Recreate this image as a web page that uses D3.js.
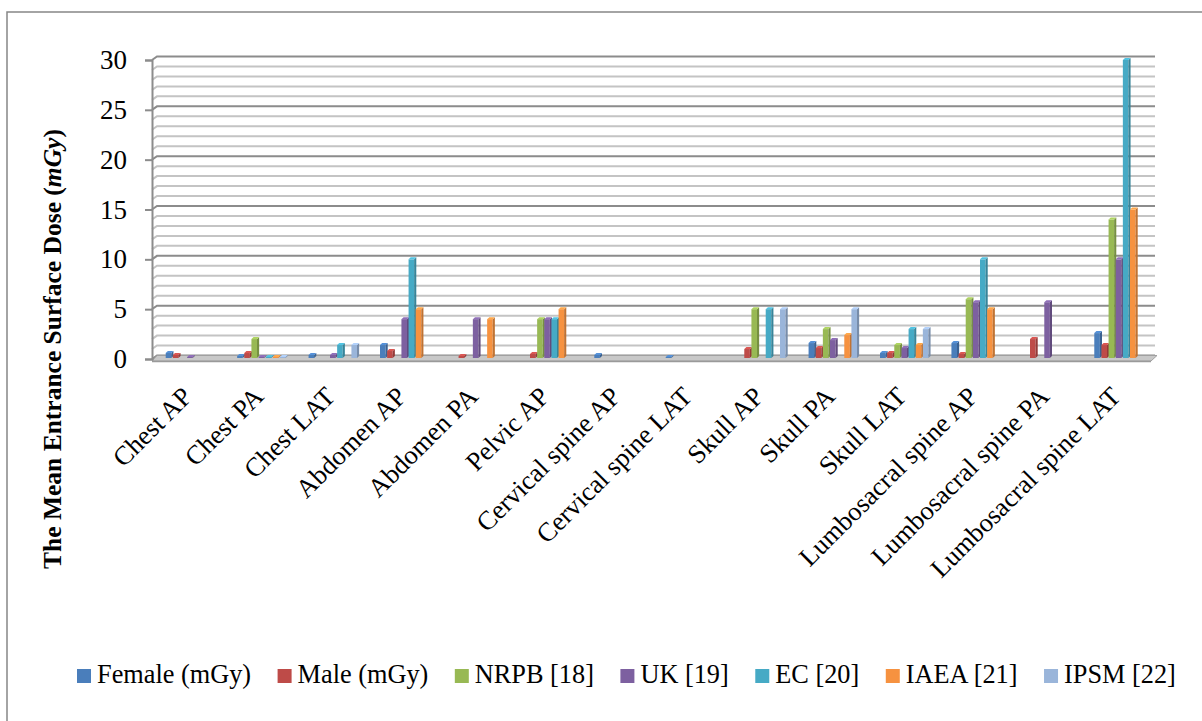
<!DOCTYPE html>
<html><head><meta charset="utf-8">
<script src="https://cdn.jsdelivr.net/npm/d3@7"></script>
<style>body{margin:0;background:#fff}svg{display:block}text{font-family:"Liberation Serif","Times New Roman",serif;fill:#000}</style>
</head><body><svg id="c" width="1202" height="721"></svg>
<script>
const categories = ["Chest AP","Chest PA","Chest LAT","Abdomen AP","Abdomen PA","Pelvic AP","Cervical spine AP","Cervical spine LAT","Skull AP","Skull PA","Skull LAT","Lumbosacral spine AP","Lumbosacral spine PA","Lumbosacral spine LAT"];
const seriesNames = ["Female (mGy)","Male (mGy)","NRPB [18]","UK [19]","EC [20]","IAEA [21]","IPSM [22]"];
const female = [0.6,0.3,0.4,1.4,null,null,0.4,0.2,null,1.6,0.6,1.6,null,2.6];
const male   = [0.4,0.6,null,0.8,0.3,0.5,null,null,1.0,1.1,0.6,0.5,2.0,1.4];
const nrpb   = [null,2.0,null,null,null,4.0,null,null,5.0,3.0,1.4,6.0,null,14];
const uk     = [0.2,0.2,0.4,4.0,4.0,4.0,null,null,null,1.9,1.1,5.7,5.7,10];
const ec     = [null,0.2,1.4,10,null,4.0,null,null,5.0,null,3.0,10,null,30];
const iaea   = [null,0.2,null,5.0,4.0,5.0,null,null,null,2.4,1.4,5.0,null,15];
const ipsm   = [null,0.2,1.4,null,null,null,null,null,5.0,5.0,3.0,null,null,null];
const yTicks = [0,5,10,15,20,25,30];
const seriesValues = [female,male,nrpb,uk,ec,iaea,ipsm];
const colors = ["#4a7ebb","#be4b48","#98b954","#7d60a0","#46aac5","#f69240","#9ab5da"];
const SERIF = "'Liberation Serif','Times New Roman',serif";

const svg = d3.select("#c");
svg.append("rect").attr("x",7).attr("y",12).attr("width",1205).attr("height",725)
  .attr("fill","none").attr("stroke","#868686").attr("stroke-width",1.5);

const y = d3.scaleLinear().domain([0,30]).range([359,60]);
const x = d3.scaleBand().domain(categories).range([155,1155]).paddingInner(0.3).paddingOuter(0.15);
const xs = d3.scaleBand().domain(seriesNames).range([0,x.bandwidth()]);
const dx = 5, dy = 3.5;

// gridlines (back wall)
const grid = svg.append("g");
d3.range(0,31).forEach(v=>{
  const major = v%5===0;
  const c = major ? "#8c8c8c" : "#c4c4c4";
  grid.append("path")
    .attr("d",`M152,${y(v)}L${152+dx},${y(v)-dy}L1155,${y(v)-dy}`)
    .attr("fill","none").attr("stroke",c).attr("stroke-width",2);
});
// floor
svg.append("path").attr("d",`M152,${y(0)+2}L${152+dx},${y(0)-dy}L1157,${y(0)-dy}L1151,${y(0)+2}Z`)
  .attr("fill","#c8c8c8").attr("stroke","#a0a0a0").attr("stroke-width",1);
svg.append("line").attr("x1",152).attr("x2",1151).attr("y1",y(0)+2.5).attr("y2",y(0)+2.5).attr("stroke","#9a9a9a").attr("stroke-width",1.5);

// axis
const ax = svg.append("g").attr("transform","translate(152,0)")
  .call(d3.axisLeft(y).tickValues(yTicks).tickSize(7).tickPadding(18));
ax.attr("font-family",null);
ax.select(".domain").attr("stroke","#8c8c8c").attr("stroke-width",2);
ax.selectAll(".tick line").attr("stroke","#8c8c8c").attr("stroke-width",2);
ax.selectAll(".tick text").attr("font-size",27).style("font-family",SERIF).attr("fill","#000");

// bars
const bars = svg.append("g");
seriesValues.forEach((vals,si)=>{
  const col = d3.color(colors[si]);
  const side = col.darker(0.7), top = col.brighter(0.4);
  vals.forEach((v,ci)=>{
    if (v==null) return;
    const x0 = x(categories[ci]) + xs(seriesNames[si]);
    const w = xs.bandwidth()*0.78, d = xs.bandwidth()*0.3;
    const y0 = y(0)-1, y1 = y(v);
    bars.append("rect").attr("x",x0).attr("y",y1).attr("width",w).attr("height",y0-y1).attr("fill",col.formatHex());
    bars.append("path").attr("d",`M${x0+w},${y0}L${x0+w},${y1}L${x0+w+d},${y1-2}L${x0+w+d},${y0-2}Z`).attr("fill",side.formatHex());
    bars.append("path").attr("d",`M${x0},${y1}L${x0+w},${y1}L${x0+w+d},${y1-2}L${x0+d},${y1-2}Z`).attr("fill",top.formatHex());
  });
});

// x labels
const xl = svg.append("g");
categories.forEach(c=>{
  const cx = x(c)+x.bandwidth()/2;
  xl.append("text").attr("transform",`translate(${cx+3},${398}) rotate(-45)`)
    .attr("text-anchor","end").attr("font-size",26.5).style("font-family",SERIF).text(c);
});

// y title
const yt = svg.append("text").attr("transform","translate(61,349) rotate(-90)")
  .attr("text-anchor","middle").attr("font-size",25.5).attr("font-weight","bold").style("font-family",SERIF);
yt.append("tspan").text("The Mean Entrance Surface Dose (");
yt.append("tspan").attr("font-style","italic").text("mGy");
yt.append("tspan").text(")");

// legend
const lg = svg.append("g");
let lx = 77;
seriesNames.forEach((s,i)=>{
  lg.append("rect").attr("x",lx).attr("y",669).attr("width",14).attr("height",14).attr("fill",colors[i]);
  const t = lg.append("text").attr("x",lx+20).attr("y",683).attr("font-size",26.3).style("font-family",SERIF).text(s);
  lx += 20 + t.node().getComputedTextLength() + 26.5;
});
</script></body></html>
